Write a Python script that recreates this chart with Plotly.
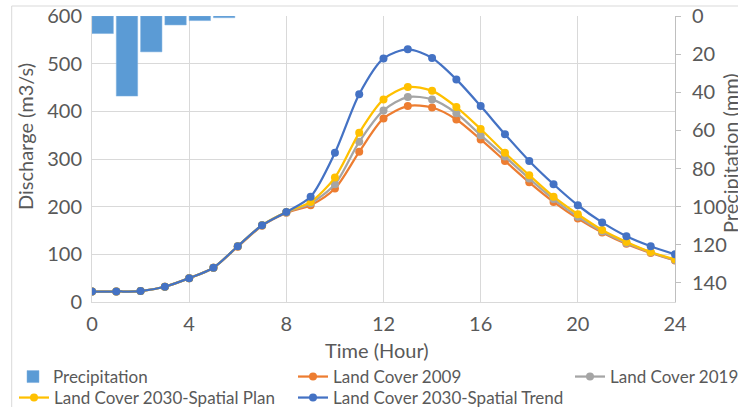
import plotly.graph_objects as go

hours = list(range(0, 25))
precip_hours = [0, 1, 2, 3, 4, 5]
precipitation = [9.2, 42, 18.8, 4.7, 2.4, 0.9]

lc_2009 = [22, 22, 23, 32, 50, 72, 116, 160, 187, 203, 238, 315, 385, 411, 408,
           383, 341, 296, 251, 210, 175, 146, 122, 103, 87]
lc_2019 = [22, 22, 23, 32, 50, 72, 117, 161, 188, 207, 247, 336, 402, 430, 425,
           396, 350, 305, 259, 216, 179, 148, 124, 104, 88]
lc_2030_plan = [22, 22, 23, 32, 50, 72, 117, 161, 189, 210, 261, 355, 425, 451, 443,
                409, 363, 313, 266, 221, 184, 151, 126, 105, 89.5]
lc_2030_trend = [22, 22, 23, 32, 50, 72, 117, 161, 189, 221, 313, 436, 511, 530, 512,
                 467, 411, 352, 296, 247, 203, 167, 138, 117, 100]

left_ticks = [0, 100, 200, 300, 400, 500, 600]
right_ticks = [0, 20, 40, 60, 80, 100, 120, 140]
x_ticks = [0, 4, 8, 12, 16, 20, 24]

FONT = "Lato"
TXT = "#595959"
GRID = "#d9d9d9"

W, H = 738, 407
L, R, T, B = 92, 63, 16, 105
PW, PH = W - L - R, H - T - B


def px(xs):
    """pixel x -> paper x"""
    return (xs - L) / PW


def py(ys):
    """pixel y -> paper y"""
    return (H - B - ys) / PH


fig = go.Figure()

fig.add_trace(go.Bar(
    x=precip_hours, y=precipitation, name="Precipitation", yaxis="y2",
    offset=0, width=0.88, legend="legend",
    marker=dict(color="#5B9BD5", line=dict(color="#7fb1e0", width=0.5)),
))

series = [
    ("Land Cover 2009", lc_2009, "#ED7D31", "legend2"),
    ("Land Cover 2019", lc_2019, "#A5A5A5", "legend3"),
    ("Land Cover 2030-Spatial Plan", lc_2030_plan, "#FFC000", "legend4"),
    ("Land Cover 2030-Spatial Trend", lc_2030_trend, "#4472C4", "legend5"),
]
for name, vals, col, lg in series:
    fig.add_trace(go.Scatter(
        x=hours, y=vals, name=name, mode="lines+markers", legend=lg,
        line=dict(color=col, width=2.25, shape="spline", smoothing=0.8),
        marker=dict(color=col, size=8),
    ))

lfont = dict(size=17, color=TXT, family=FONT)


def leg(text_x, ys):
    return dict(orientation="h", x=px(text_x - 40), xanchor="left",
                y=py(ys), yanchor="middle", font=lfont,
                bgcolor="rgba(0,0,0,0)")


tf = dict(size=20, color=TXT, family=FONT)

fig.update_layout(
    width=W, height=H,
    margin=dict(l=L, r=R, t=T, b=B, autoexpand=False),
    paper_bgcolor="white", plot_bgcolor="white",
    font=dict(family=FONT, color=TXT, size=20),
    showlegend=True,
    xaxis=dict(
        range=[0, 24], tickvals=x_ticks, ticktext=[str(v) for v in x_ticks],
        showgrid=True, gridcolor=GRID, gridwidth=1,
        showline=True, linecolor=GRID, zeroline=False,
        ticks="", tickfont=tf, ticklabelstandoff=4, ticklabeloverflow="allow",
    ),
    yaxis=dict(
        range=[0, 600], tickvals=left_ticks,
        showgrid=True, gridcolor=GRID, gridwidth=1,
        showline=True, linecolor=GRID, zeroline=False,
        ticks="", tickfont=tf, ticklabelstandoff=5, ticklabeloverflow="allow",
    ),
    yaxis2=dict(
        range=[150, 0], tickvals=right_ticks, overlaying="y", side="right",
        showgrid=False, showline=True, linecolor="#bfbfbf", zeroline=False,
        ticks="outside", ticklen=5, tickcolor="#bfbfbf",
        tickfont=tf, ticklabelstandoff=7, ticklabeloverflow="allow",
    ),
    legend=leg(53, 377),
    legend2=leg(333, 377),
    legend3=leg(610, 377),
    legend4=leg(54, 398),
    legend5=leg(333, 398),
    shapes=[dict(type="rect", xref="paper", yref="paper",
                 x0=px(11.7), x1=px(800), y0=py(450), y1=py(6),
                 line=dict(color=GRID, width=1), fillcolor="rgba(0,0,0,0)",
                 layer="below")],
    annotations=[
        dict(text="Discharge (m3/s)", xref="paper", yref="paper",
             x=px(25), y=py(137), textangle=-90,
             showarrow=False, xanchor="center", yanchor="middle",
             font=tf),
        dict(text="Precipitation (mm)", xref="paper", yref="paper",
             x=px(730), y=py(153), textangle=-90,
             showarrow=False, xanchor="center", yanchor="middle",
             font=tf),
        dict(text="Time (Hour)", xref="paper", yref="paper",
             x=px(377), y=py(350),
             showarrow=False, xanchor="center", yanchor="middle",
             font=tf),
    ],
)

fig.write_html("out.html",
               config={"displayModeBar": False},
               post_script="document.body.style.margin='0px';")
